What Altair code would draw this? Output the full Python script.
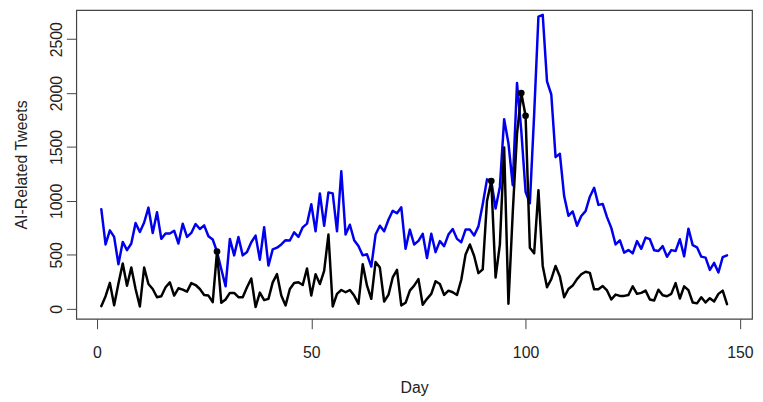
import altair as alt
import pandas as pd

days = list(range(1, 148))

all_tweets = [
    923, 596, 727, 666, 413, 620, 544, 605, 795, 712,
    800, 938, 703, 896, 648, 697, 697, 724, 605, 789,
    666, 703, 786, 740, 773, 672, 642, 529, 367, 208,
    648, 495, 666, 495, 526, 617, 678, 455, 756, 400,
    550, 566, 596, 636, 633, 709, 666, 755, 789, 969,
    718, 1070, 770, 1079, 1070, 718, 1275, 688, 779, 636,
    581, 495, 505, 391, 688, 770, 718, 825, 908, 886,
    941, 556, 734, 596, 630, 695, 470, 695, 525, 627,
    581, 688, 740, 648, 617, 734, 734, 679, 764, 970,
    1200, 1185, 930, 1130, 1758, 1535, 1146, 2094, 1650, 1085,
    978, 1800, 2710, 2726, 2109, 1987, 1406, 1437, 1045, 862,
    902, 770, 860, 905, 1039, 1122, 963, 972, 850, 750,
    596, 635, 520, 544, 514, 627, 556, 660, 645, 543,
    535, 581, 482, 544, 535, 645, 486, 743, 590, 570,
    483, 474, 360, 425, 336, 478, 495,
]

subset_tweets = [
    24, 116, 240, 33, 235, 420, 214, 382, 183, 21,
    382, 229, 183, 107, 116, 199, 245, 122, 190, 177,
    159, 238, 220, 183, 128, 122, 61, 530, 55, 86,
    147, 147, 107, 107, 199, 281, 15, 150, 80, 92,
    245, 321, 122, 31, 183, 238, 245, 220, 373, 122,
    321, 229, 352, 688, 21, 138, 174, 153, 174, 122,
    46, 413, 214, 92, 434, 382, 67, 128, 290, 361,
    31, 55, 168, 214, 275, 37, 92, 138, 255, 229,
    128, 168, 153, 128, 269, 504, 596, 489, 330, 365,
    1000, 1185, 290, 595, 1495, 46, 886, 1620, 2000, 1790,
    565, 514, 1100, 397, 199, 275, 397, 299, 107, 183,
    215, 275, 320, 343, 333, 180, 180, 210, 170, 86,
    131, 119, 119, 128, 208, 138, 147, 168, 86, 76,
    177, 125, 116, 138, 238, 95, 208, 172, 58, 50,
    107, 58, 98, 68, 138, 168, 43,
]

marked_days = [28, 92, 99, 100]

x_ticks = [0, 50, 100, 150]
y_ticks = [0, 500, 1000, 1500, 2000, 2500]

df = pd.DataFrame({"Day": days, "All": all_tweets, "Subset": subset_tweets})
pts = df[df["Day"].isin(marked_days)]

font = "Liberation Sans"

x_enc = alt.X(
    "Day:Q",
    scale=alt.Scale(domain=[-4.84, 152.84], nice=False, zero=False),
    axis=alt.Axis(
        values=x_ticks, title="Day", domain=False, grid=False, format="d",
        tickSize=10, tickColor="#444", labelPadding=16,
        labelFont=font, labelFontSize=16, labelColor="#222",
        titleFont=font, titleFontSize=16, titleFontWeight="normal",
        titleColor="#222", titlePadding=20,
    ),
)

y_axis = alt.Axis(
    values=y_ticks, title="AI-Related Tweets", domain=False, grid=False,
    format="d",
    tickSize=10, tickColor="#444", labelPadding=2,
    labelAngle=270, labelAlign="center", labelBaseline="bottom",
    labelFont=font, labelFontSize=16, labelColor="#222",
    titleFont=font, titleFontSize=16, titleFontWeight="normal",
    titleColor="#222", titlePadding=19,
)
y_scale = alt.Scale(domain=[-93, 2770], nice=False, zero=False)

base = alt.Chart(df)

blue_line = base.mark_line(
    color="#0000ee", strokeWidth=2.5, strokeJoin="round", strokeCap="round"
).encode(x=x_enc, y=alt.Y("All:Q", scale=y_scale, axis=y_axis))

black_line = base.mark_line(
    color="#000000", strokeWidth=2.5, strokeJoin="round", strokeCap="round"
).encode(x=x_enc, y=alt.Y("Subset:Q", scale=y_scale, axis=y_axis))

dots = alt.Chart(pts).mark_point(
    filled=True, color="#000000", size=45, opacity=1
).encode(x=x_enc, y=alt.Y("Subset:Q", scale=y_scale, axis=y_axis))

chart = alt.layer(blue_line, black_line, dots).properties(
    width=683,
    height=312,
    autosize=alt.AutoSizeParams(type="none"),
    padding={"left": 69, "top": 0, "right": 3, "bottom": 80},
).configure_view(stroke="#444", strokeWidth=1.2)

chart.save("out.html", embed_options={"renderer": "svg", "actions": False})
